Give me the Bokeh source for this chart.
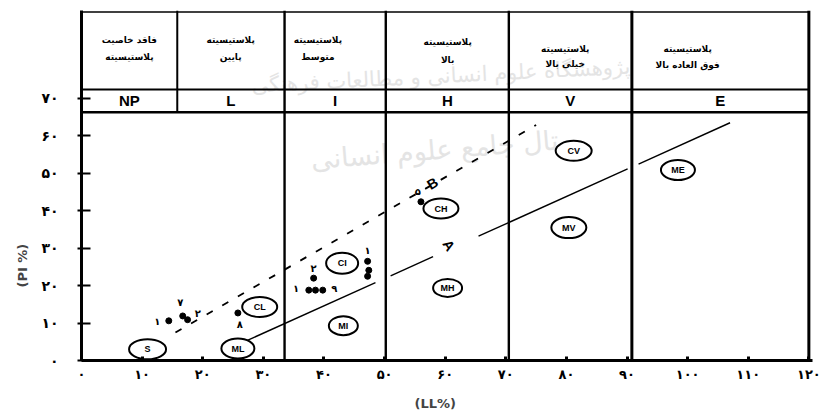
import math
from bokeh.plotting import figure
from bokeh.models import Range1d, FixedTicker, Title
from bokeh.core.properties import value
from bokeh.embed import file_html
from bokeh.resources import INLINE

# ---------------- data ----------------
ll_ticks = [0, 10, 20, 30, 40, 50, 60, 70, 80, 90, 100, 110, 120]
ll_tick_labels = ["۰", "۱۰", "۲۰", "۳۰", "۴۰", "۵۰", "۶۰", "۷۰", "۸۰", "۹۰", "۱۰۰", "۱۱۰", "۱۲۰"]
pi_ticks = [0, 10, 20, 30, 40, 50, 60, 70]
pi_tick_labels = ["۰", "۱۰", "۲۰", "۳۰", "۴۰", "۵۰", "۶۰", "۷۰"]

zone_codes = ["NP", "L", "I", "H", "V", "E"]
zone_bounds = [0, 15.8, 33.5, 50.2, 70.5, 90.8, 120]
zone_line1 = ["فاقد خاصیت", "پلاستیسیته", "پلاستیسیته", "پلاستیسیته", "پلاستیسیته", "پلاستیسیته"]
zone_line2 = ["پلاستیسیته", "پایین", "متوسط", "بالا", "خیلی بالا", "فوق العاده بالا"]
zone_text_x = [7.9, 24.6, 39.0, 60.4, 79.8, 100.0]

# A-line pieces (PI = 0.73 (LL - 20)), broken where labels / borders interrupt it
a_line_pieces = [(27.0, 48.5), (51.0, 58.0), (65.5, 90.1), (91.9, 107.0)]
a_slope, a_ll0 = 0.73, 20.0
# B-line (dashed)
b_line_ll = [15.5, 75.0]
b_line_pi = [7.5, 62.9]

group_names = ["S", "ML", "CL", "CI", "MI", "CH", "MH", "CV", "MV", "ME"]
group_ll = [10.9, 25.8, 29.4, 43.0, 43.2, 59.3, 60.4, 81.2, 80.4, 98.4]
group_pi = [3.0, 3.2, 14.3, 26.0, 9.3, 40.6, 19.4, 56.0, 35.5, 50.9]
group_w = [37, 33, 35, 32, 29, 35, 29, 36, 35, 34]
group_h = [20, 20, 20, 21, 19, 20, 18, 20, 21, 20]

sample_ll = [14.4, 16.7, 17.5, 25.8, 38.3, 37.5, 38.6, 39.8, 47.2, 47.4, 47.2, 56.0]
sample_pi = [10.6, 11.9, 10.9, 12.7, 22.0, 18.8, 18.8, 18.8, 26.5, 24.1, 22.5, 42.4]
sample_labels = ["۱", "۷", "۲", "۸", "۲", "۱", "۹", "۱", "۵"]
sample_label_ll = [12.5, 16.3, 19.2, 26.1, 38.3, 35.4, 41.7, 47.2, 55.5]
sample_label_pi = [10.4, 15.6, 12.6, 9.6, 24.6, 19.3, 19.3, 29.4, 45.2]

# ---------------- figure ----------------
Y_TOP = 93.5
Y_HDR1 = 72.4   # line between header texts and code row
Y_HDR2 = 66.3   # top of the chart body
p = figure(width=828, height=420, output_backend="svg", toolbar_location=None,
           x_range=Range1d(0, 120.6), y_range=Range1d(0, Y_TOP),
           min_border_left=81, min_border_right=16, min_border_top=10, min_border_bottom=57)
p.outline_line_color = None
p.xgrid.visible = False
p.ygrid.visible = False
p.background_fill_color = "white"

# watermark (faint)
p.text(x=[59.3], y=[76.0], text=["پژوهشگاه علوم انسانی و مطالعات فرهنگی"],
       text_font=value("DejaVu Sans"), text_font_size="21px", text_color="#e4e4e4",
       text_align="center", text_baseline="middle", angle=0.05)
p.text(x=[60.1], y=[56.5], text=["پرتال جامع علوم انسانی"],
       text_font=value("DejaVu Sans"), text_font_size="27px", text_color="#e4e4e4",
       text_align="center", text_baseline="middle", angle=0.08)

# header table lines
p.segment(x0=[0, 0, 0], y0=[Y_TOP - 0.4, Y_HDR1, Y_HDR2], x1=[120, 120, 120],
          y1=[Y_TOP - 0.4, Y_HDR1, Y_HDR2], line_color="black", line_width=[1.6, 2, 2.6])
inner = zone_bounds[1:-1]
p.segment(x0=[inner[0]], y0=[Y_HDR2], x1=[inner[0]], y1=[Y_TOP], line_color="black", line_width=2)
p.segment(x0=inner[1:], y0=[0] * len(inner[1:]), x1=inner[1:], y1=[Y_TOP] * len(inner[1:]),
          line_color="black", line_width=[2.4, 2.4, 2.4, 3])
p.segment(x0=[120], y0=[0], x1=[120], y1=[Y_TOP], line_color="black", line_width=3)

code_x = [(a + b) / 2 for a, b in zip(zone_bounds[:-1], zone_bounds[1:])]
p.text(x=code_x, y=[(Y_HDR1 + Y_HDR2) / 2] * 6, text=zone_codes,
       text_font=value("Liberation Sans"), text_font_style="bold", text_font_size="15px",
       text_align="center", text_baseline="middle", text_color="black")
line1_y = [85.5, 85.5, 85.5, 85.0, 83.2, 83.2]
line2_y = [81.0, 81.0, 81.0, 80.2, 79.3, 79.0]
p.text(x=zone_text_x, y=line1_y, text=zone_line1,
       text_font=value("DejaVu Sans"), text_font_style="bold", text_font_size="9px",
       text_align="center", text_baseline="middle", text_color="black")
p.text(x=zone_text_x, y=line2_y, text=zone_line2,
       text_font=value("DejaVu Sans"), text_font_style="bold", text_font_size="9px",
       text_align="center", text_baseline="middle", text_color="black")

# A-line
for x0, x1 in a_line_pieces:
    p.line(x=[x0, x1], y=[a_slope * (x0 - a_ll0), a_slope * (x1 - a_ll0)],
           line_color="black", line_width=1.4)
# B-line
p.line(x=b_line_ll, y=b_line_pi, line_color="black", line_width=1.8, line_dash="7 11")

p.text(x=[60.6], y=[30.8], text=["A"], text_font=value("Liberation Sans"), text_font_style="bold",
       text_font_size="14px", text_align="center", text_baseline="middle", angle=-1.0)
p.text(x=[57.9], y=[47.3], text=["B"], text_font=value("Liberation Sans"), text_font_style="bold",
       text_font_size="14px", text_align="center", text_baseline="middle", angle=0.55)

# sample points
p.scatter(x=sample_ll, y=sample_pi, size=6, color="black")
p.text(x=sample_label_ll, y=sample_label_pi, text=sample_labels,
       text_font=value("DejaVu Sans"), text_font_style="bold", text_font_size="10px",
       text_align="center", text_baseline="middle", text_color="black")

# group ellipses
p.ellipse(x=group_ll, y=group_pi, width=group_w, height=group_h,
          width_units="screen", height_units="screen",
          fill_color="white", line_color="black", line_width=2)
p.text(x=group_ll, y=group_pi, text=group_names,
       text_font=value("Liberation Sans"), text_font_style="bold", text_font_size="9px",
       text_align="center", text_baseline="middle", text_color="black")

# axes
xa = p.xaxis[0]
xa.ticker = FixedTicker(ticks=ll_ticks)
xa.major_label_overrides = {t: s for t, s in zip(ll_ticks, ll_tick_labels)}
xa.axis_line_width = 3
xa.major_tick_in = 4
xa.major_tick_out = 0
xa.major_tick_line_width = 3
xa.minor_tick_line_color = None
xa.major_label_standoff = 6
xa.major_label_text_font = "DejaVu Sans"
xa.major_label_text_font_style = "bold"
xa.major_label_text_font_size = "13px"
xa.major_label_text_color = "black"

ya = p.yaxis[0]
ya.ticker = FixedTicker(ticks=pi_ticks)
ya.major_label_overrides = {t: s for t, s in zip(pi_ticks, pi_tick_labels)}
ya.axis_line_width = 3
ya.major_tick_in = 9
ya.major_tick_out = 4
ya.major_tick_line_width = 2
ya.minor_tick_line_color = None
ya.major_label_standoff = 19
ya.major_label_orientation = "horizontal"
ya.major_label_text_font = "DejaVu Sans"
ya.major_label_text_font_style = "bold"
ya.major_label_text_font_size = "14px"
ya.major_label_text_color = "black"

p.add_layout(Title(text="(PI %)", align="left", offset=73, standoff=17,
                   text_font="DejaVu Sans", text_font_style="bold", text_font_size="13px"), "left")
p.add_layout(Title(text="(LL%)", align="left", offset=333, standoff=19,
                   text_font="DejaVu Sans", text_font_style="bold", text_font_size="13px"), "below")

open("out.html", "w").write(file_html(p, INLINE))
